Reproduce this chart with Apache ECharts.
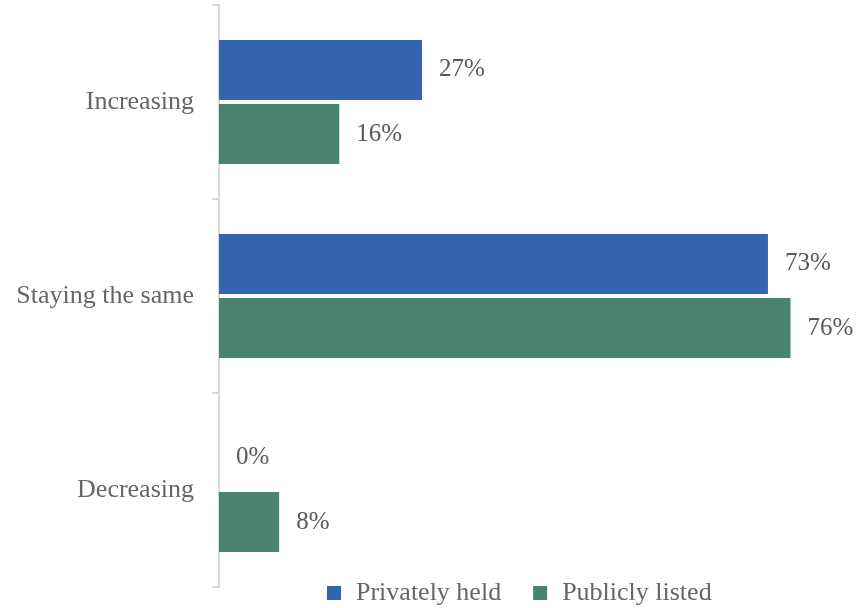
<!DOCTYPE html>
<html>
<head>
<meta charset="utf-8">
<script src="https://cdn.jsdelivr.net/npm/echarts@6/dist/echarts.min.js"></script>
<style>
  html, body { margin: 0; padding: 0; background: #fff; }
  #chart { width: 861px; height: 608px; }
</style>
</head>
<body>
<div id="chart"></div>
<script>
// Outlook categories, top to bottom
const categories = ['Increasing', 'Staying the same', 'Decreasing'];
// Share of respondents (%)
const privatelyHeld = [27, 73, 0];
const publiclyListed = [16, 76, 8];
const seriesNames = ['Privately held', 'Publicly listed'];

const FONT = '"Liberation Serif", "DejaVu Serif", serif';
const chart = echarts.init(document.getElementById('chart'), null, { renderer: 'canvas' });

const labelStyle = {
  show: true,
  position: 'right',
  distance: 17,
  formatter: p => p.value + '%',
  color: '#595959',
  fontFamily: FONT,
  fontSize: 25
};

chart.setOption({
  animation: false,
  backgroundColor: '#ffffff',
  grid: { left: 219, top: 5, width: 601.6, height: 582 },
  xAxis: {
    type: 'value',
    min: 0,
    max: 80,
    show: false
  },
  yAxis: {
    type: 'category',
    data: categories,
    inverse: true,
    boundaryGap: true,
    axisLine: { show: true, lineStyle: { color: '#d9d9d9', width: 2 } },
    axisTick: { show: true, length: 7, lineStyle: { color: '#d9d9d9', width: 2 } },
    axisLabel: { margin: 25, color: '#666666', fontFamily: FONT, fontSize: 26 },
    splitLine: { show: false }
  },
  legend: {
    left: 322,
    top: 575,
    itemWidth: 14,
    itemHeight: 14,
    itemGap: 32,
    icon: 'rect',
    textStyle: { color: '#666666', fontFamily: FONT, fontSize: 26, padding: [0, 0, 0, 10] },
    data: seriesNames
  },
  series: [
    {
      name: seriesNames[0],
      type: 'bar',
      data: privatelyHeld,
      barWidth: 60,
      barGap: '7%',
      itemStyle: { color: '#3564B0' },
      label: labelStyle
    },
    {
      name: seriesNames[1],
      type: 'bar',
      data: publiclyListed,
      barWidth: 60,
      barGap: '7%',
      itemStyle: { color: '#4A8371' },
      label: labelStyle
    }
  ]
});
</script>
</body>
</html>
